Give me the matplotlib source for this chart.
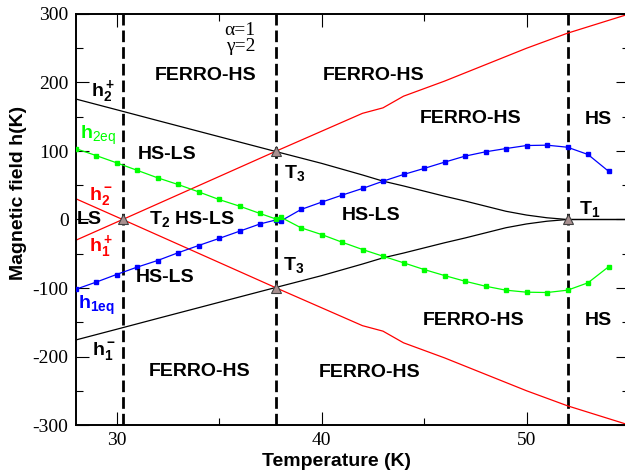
import matplotlib
matplotlib.use('Agg')
import matplotlib.pyplot as plt

plt.rcParams['font.family'] = ['Liberation Sans', 'DejaVu Sans']
plt.rcParams['mathtext.fontset'] = 'custom'
plt.rcParams['mathtext.bf'] = 'Liberation Sans:bold'
plt.rcParams['mathtext.rm'] = 'Liberation Sans'
plt.rcParams['mathtext.it'] = 'Liberation Sans:italic'
plt.rcParams['mathtext.default'] = 'bf'
plt.rcParams['axes.unicode_minus'] = False

# transition temperatures (K)
T1 = 52.0
T2 = 30.3
T3 = 37.8

# black boundaries h2+ / h1-
T_black = [28, 30, 32, 34, 36, 37.8, 40, 42, 43, 44, 45, 46, 47, 48, 49, 50, 51, 52, 55]
h2_plus = [176, 160.3, 144.5, 128.8, 113.1, 99, 82, 65, 56, 49, 41.5, 34, 27, 19.5, 12, 6.5, 2.5, 0, 0]
h1_minus = [-176, -160.3, -144.5, -128.8, -113.1, -99, -82, -65, -56, -49, -41.5, -34, -27, -19.5, -12, -6.5, -2.5, 0, 0]

# red boundaries h1+ / h2-
T_red = [28, 30.3, 37.8, 42, 43, 44, 46, 48, 50, 52, 55]
h1_plus = [-30.5, 0, 100, 155, 163, 180, 202, 226, 250, 272, 300]
h2_minus = [30.5, 0, -100, -155, -163, -180, -202, -226, -250, -272, -300]

# equilibrium fields
T_eq = [28, 29, 30, 31, 32, 33, 34, 35, 36, 37, 37.8, 38, 39, 40, 41, 42, 43,
        44, 45, 46, 47, 48, 49, 50, 51, 52, 53, 54]
h1_eq = [-102, -91.5, -80.3, -69.6, -59.9, -48.6, -38, -27.7, -17.1, -6.5, -0.5, -2.4,
         14.6, 25.3, 35.5, 45.3, 55.9, 65.7, 74.5, 83.7, 92.5, 98.8, 103.6, 108,
         108.5, 105.5, 94.9, 70.5]
h2_eq = [103.6, 93.4, 82.8, 71.9, 60.9, 51.1, 40.4, 29.2, 19.5, 8.8, 0.5, 3.5,
         -12.1, -21.9, -33.1, -43.8, -53.6, -63.2, -73, -81.8, -90.1, -97.4, -103.2,
         -106.1, -106.6, -103.2, -92.4, -69.1]

# triple points
T_tri = [T2, T3, T3, T1]
h_tri = [0, 100, -100, 0]

fig = plt.figure(figsize=(6.25, 4.73), dpi=100)
ax = fig.add_axes([75.5 / 625, 48 / 473, 553.5 / 625, 411 / 473])

for T in [T2, T3, T1]:
    ax.axvline(T, color='black', lw=2, ls=(0, (4.2, 1.8)), zorder=1)

ax.plot(T_black, h2_plus, color='black', lw=0.9, zorder=2)
ax.plot(T_black, h1_minus, color='black', lw=0.9, zorder=2)
ax.plot(T_red, h1_plus, color='red', lw=0.9, zorder=2)
ax.plot(T_red, h2_minus, color='red', lw=0.9, zorder=2)
ax.plot(T_eq, h1_eq, color='blue', lw=0.9, marker='s', ms=3.5, zorder=3)
ax.plot(T_eq, h2_eq, color='#00ff00', lw=0.9, marker='s', ms=3.5, zorder=3)
ax.plot(T_tri, h_tri, ls='none', marker='^', ms=7, mfc='#a89090', mec='#404040',
        mew=0.8, zorder=4)

ax.set_xlim(28, 55)
ax.set_ylim(-300, 300)
ax.set_xticks([30, 40, 50])
ax.set_xticks([35, 45], minor=True)
ax.set_yticks(range(-300, 301, 100))
ax.set_yticks(range(-250, 300, 100), minor=True)
ax.tick_params(which='both', direction='in', top=True, right=True, width=0.8,
               pad=5, labelsize=14, labelfontfamily='Liberation Serif')
ax.tick_params(which='major', length=9.4)
ax.tick_params(which='minor', length=5)
for s in ax.spines.values():
    s.set_linewidth(1.4)

ax.set_xlabel('Temperature (K)', fontsize=14, fontweight='bold')
ax.xaxis.set_label_coords(0.472, -0.068)
ax.set_ylabel('Magnetic field h(K)', fontsize=14, fontweight='bold')
ax.yaxis.set_label_coords(-0.0876, 0.564)

# region names
bold = dict(fontsize=14, fontweight='bold', ha='center', va='center')
ax.text(34.35, 210.5, 'FERRO-HS', **bold)
ax.text(42.53, 210, 'FERRO-HS', **bold)
ax.text(47.28, 148, 'FERRO-HS', **bold)
ax.text(53.5, 146.7, 'HS', **bold)
ax.text(32.45, 95.6, 'HS-LS', **bold)
ax.text(33.67, 0.7, '$T_2$ HS-LS', **bold)
ax.text(42.4, 5.5, 'HS-LS', **bold)
ax.text(32.35, -84.7, 'HS-LS', **bold)
ax.text(38.69, 68, '$T_3$', **bold)
ax.text(38.62, -66.4, '$T_3$', **bold)
ax.text(53.1, 15.3, '$T_1$', **bold)
ax.text(34.07, -222, 'FERRO-HS', **bold)
ax.text(42.33, -223.4, 'FERRO-HS', **bold)
ax.text(47.43, -147.9, 'FERRO-HS', **bold)
ax.text(53.5, -148, 'HS', **bold)
ax.text(28.07, -0.7, 'LS', fontsize=14, fontweight='bold', ha='left', va='center')

# curve names
lab = dict(fontsize=14, ha='left', va='center')
ax.text(28.74, 186.5, '$h_2^+$', color='black', **lab)
ax.text(28.22, 123, r'$h_{\mathrm{2eq}}$', color='#00ff00', **lab)
ax.text(28.67, 33.6, '$h_2^-$', color='red', **lab)
ax.text(28.67, -39.4, '$h_1^+$', color='red', **lab)
ax.text(28.14, -126, '$h_{1eq}$', color='blue', **lab)
ax.text(28.79, -192, '$h_1^-$', color='black', **lab)

ax.text(36.78, 276.6, 'α=1', fontsize=14, family='Liberation Serif', ha='right', va='center')
ax.text(36.78, 252, 'γ=2', fontsize=14, family='Liberation Serif', ha='right', va='center')

fig.savefig('out.png', dpi=100)
